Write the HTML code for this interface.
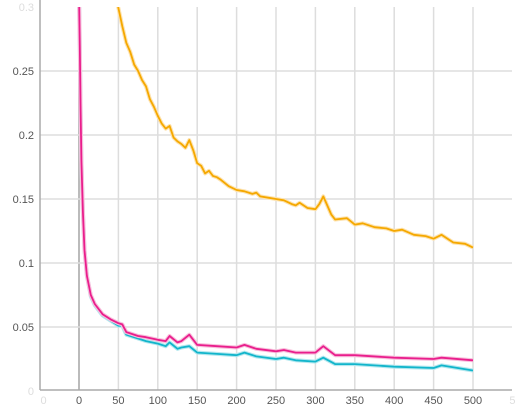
<!DOCTYPE html>
<html><head><meta charset="utf-8"><style>
body{margin:0;background:#fff;width:530px;height:412px;overflow:hidden;font-family:"Liberation Sans",sans-serif}
</style></head><body>
<svg id="chart" width="530" height="412" xmlns="http://www.w3.org/2000/svg" style="position:absolute;left:0;top:0">
<g id="grid"></g>
<g id="series"></g>
<g id="axes"></g>
</svg>
<script>
const xTicks=[-50,0,50,100,150,200,250,300,350,400,450,500,550];
const xTickLabels=["0","0","50","100","150","200","250","300","350","400","450","500","5"];
const yTicks=[0,0.05,0.1,0.15,0.2,0.25,0.3];
const yTickLabels=["0","0.05","0.1","0.15","0.2","0.25","0.3"];
const orangeSteps=[48,55,60,65,70,75,80,85,90,95,100,105,110,115,120,125,130,135,140,145,150,155,160,165,170,175,180,190,200,210,220,225,230,240,250,260,270,275,280,290,300,305,310,320,325,340,350,360,375,390,400,410,425,440,450,460,470,475,490,500];
const orangeVals=[0.305,0.285,0.272,0.265,0.255,0.25,0.243,0.238,0.228,0.222,0.215,0.209,0.205,0.207,0.198,0.195,0.193,0.19,0.196,0.188,0.178,0.176,0.17,0.172,0.168,0.167,0.165,0.16,0.157,0.156,0.154,0.155,0.152,0.151,0.15,0.149,0.146,0.145,0.147,0.143,0.142,0.146,0.152,0.138,0.134,0.135,0.13,0.131,0.128,0.127,0.125,0.126,0.122,0.121,0.119,0.122,0.118,0.116,0.115,0.112];
const pinkSteps=[0,1,2,3,5,7,10,15,20,30,40,50,55,60,75,85,100,110,115,125,130,140,150,175,200,210,225,250,260,275,300,310,325,350,400,450,460,500];
const pinkVals=[0.31,0.27,0.22,0.18,0.14,0.11,0.09,0.075,0.068,0.06,0.056,0.053,0.052,0.046,0.043,0.042,0.040,0.039,0.043,0.038,0.039,0.044,0.036,0.035,0.034,0.036,0.033,0.031,0.032,0.030,0.030,0.035,0.028,0.028,0.026,0.025,0.026,0.024];
const cyanSteps=[0,1,2,3,5,7,10,15,20,30,40,50,55,60,75,85,100,110,115,125,130,140,150,175,200,210,225,250,260,275,300,310,325,350,400,450,460,500];
const cyanVals=[0.31,0.27,0.22,0.18,0.14,0.11,0.09,0.074,0.067,0.059,0.055,0.051,0.051,0.044,0.041,0.039,0.037,0.035,0.038,0.033,0.034,0.035,0.030,0.029,0.028,0.030,0.027,0.025,0.026,0.024,0.023,0.026,0.021,0.021,0.019,0.018,0.020,0.016];
const NS="http://www.w3.org/2000/svg";
const L=40,R=512,T=7,B=390;
const xs=v=>79+(v-0)*(473-79)/500;
const ys=v=>391-v*1280;
function mk(tag,attrs,parent){const e=document.createElementNS(NS,tag);for(const k in attrs)e.setAttribute(k,attrs[k]);parent.appendChild(e);return e;}
const grid=document.getElementById('grid'),axes=document.getElementById('axes'),series=document.getElementById('series');
xTicks.forEach((t,i)=>{const x=xs(t);
 if(x>L&&x<R){const g=mk('line',{x1:x,x2:x,y1:T,y2:B,stroke:t===0?'#bbb':'#ddd','stroke-width':t===0?2:1.5},grid);
 
 }
 const lb=mk('text',{x:x+(t<0?4:0),y:404,'text-anchor':'middle','font-size':11,fill:(t<0||t>500)?'#ddd':'#555'},axes);
 lb.textContent=xTickLabels[i];
 
 
});
yTicks.forEach((t,i)=>{const y=ys(t);
 if(t>0&&t<0.3){const g=mk('line',{x1:L,x2:R,y1:y,y2:y,stroke:'#ddd','stroke-width':1.5},grid);
 
 }
 const lb=mk('text',{x:34,y:y+4,'text-anchor':'end','font-size':11,fill:(t===0||t===0.3)?'#ddd':'#555'},axes);
 lb.textContent=yTickLabels[i];
 
 
});
const ya=mk('line',{x1:L,x2:L,y1:0,y2:B,stroke:'#aaa','stroke-width':1.5},axes);


const xa=mk('line',{x1:L,x2:R,y1:B,y2:B,stroke:'#aaa','stroke-width':1.5},axes);


const clip=mk('clipPath',{id:'pc'},document.getElementById('chart'));
mk('rect',{x:L,y:T,width:R-L,height:B-T},clip);
function draw(steps,vals,color,faint,name){
 const d=steps.map((s,i)=>(i?'L':'M')+xs(s).toFixed(1)+','+ys(vals[i]).toFixed(1)).join('');
 const f=mk('path',{d:d,fill:'none',stroke:faint,'stroke-width':4,'clip-path':'url(#pc)','stroke-linejoin':'round'},series);
 
 
 const p=mk('path',{d:d,fill:'none',stroke:color,'stroke-width':1.8,'clip-path':'url(#pc)','stroke-linejoin':'round'},series);
 
 
}
draw(orangeSteps,orangeVals,'#f5a800','#fde3b0','orange-series');
draw(cyanSteps,cyanVals,'#12b5cb','#b4e8ef','cyan-series');
draw(pinkSteps,pinkVals,'#e91e8c','#f8bfdc','pink-series');
</script>
</body></html>
